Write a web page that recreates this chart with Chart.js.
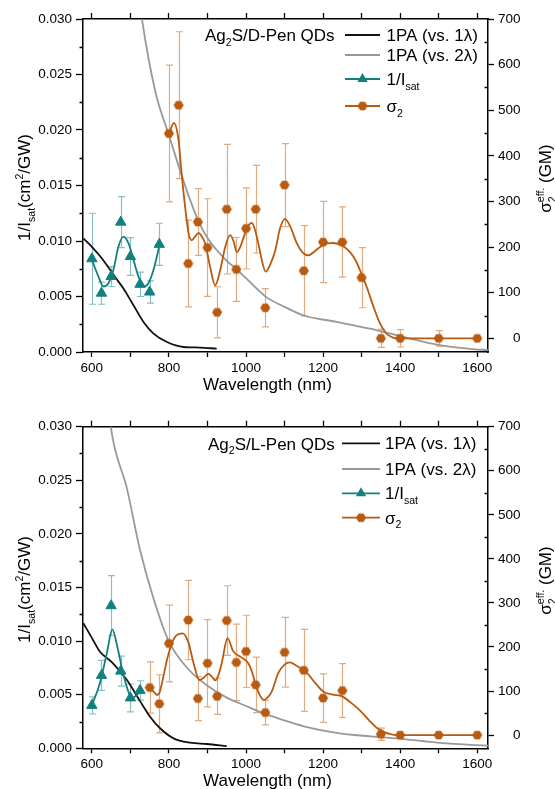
<!DOCTYPE html>
<html lang="en">
<head>
<meta charset="utf-8">
<title>Ag2S QDs - 1/Isat and sigma2</title>
<script src="https://cdn.jsdelivr.net/npm/chart.js@4.4.1/dist/chart.umd.min.js"></script>
<style>
  html, body { margin: 0; padding: 0; background: #fff; }
  .panel { position: absolute; left: 0; width: 555px; }
  #top { top: 0; height: 394px; }
  #bottom { top: 394px; height: 395px; }
</style>
</head>
<body>
<div class="panel" id="top"><canvas id="chartD" width="555" height="394"></canvas></div>
<div class="panel" id="bottom"><canvas id="chartL" width="555" height="395"></canvas></div>
<script>
// ---- D-Pen (top panel) ----
const dIsatWl = [600, 625, 650, 675, 700, 725, 750, 775];
const dIsat = [0.0084, 0.0053, 0.0068, 0.0117, 0.0086, 0.0061, 0.0054, 0.0097];
const dIsatErr = [0.0041, 0.0010, 0.0009, 0.0023, 0.0017, 0.0011, 0.0010, 0.0019];
const dIsatFitWl = [600, 617, 630, 643, 656, 669, 682, 695, 708, 721, 734, 747, 760, 776];
const dIsatFit = [0.0083, 0.0068, 0.0059, 0.0062, 0.0074, 0.0095, 0.0104, 0.0098, 0.0083, 0.0068, 0.0059, 0.0062, 0.0074, 0.0097];

const dSigmaWl = [800, 825, 850, 875, 900, 925, 950, 975, 1000, 1025, 1050, 1100, 1150, 1200, 1250, 1300, 1350, 1400, 1500, 1600];
const dSigma = [449, 511, 164, 255, 199, 57, 283, 151, 241, 283, 67, 336, 148, 211, 211, 133, 0, 0, 0, 0];
const dSigmaErr = [150, 161, 95, 73, 107, 56, 142, 70, 89, 96, 42, 91, 99, 89, 77, 66, 20, 19, 17, 3];
const dSigmaFitWl = [800, 813, 825, 833, 842, 851, 859, 867, 877, 886, 894, 907, 920, 933, 946, 959, 968, 976, 985, 993,
  1004, 1015, 1024, 1032, 1042, 1051, 1063, 1076, 1088, 1101, 1115, 1132, 1147, 1162, 1177, 1192, 1210, 1227, 1250, 1270,
  1285, 1296, 1313, 1331, 1348, 1365, 1380, 1391, 1500, 1600];
const dSigmaFit = [449, 472, 434, 361, 288, 230, 215, 222, 231, 222, 208, 156, 116, 149, 200, 226, 212, 189, 200, 219,
  244, 253, 236, 208, 168, 146, 162, 193, 240, 262, 245, 208, 188, 182, 190, 200, 208, 209, 203, 189,
  170, 149, 113, 69, 32, 10, 2, 0, 0, 0];

const d1paWl = [578, 600, 621, 639, 660, 682, 708, 734, 760, 795, 838, 881, 924];
const d1pa = [0.01023, 0.00948, 0.00865, 0.00782, 0.00677, 0.00572, 0.00421, 0.00271, 0.00166, 0.0009, 0.00045, 0.0004, 0.0003];
const d2paWl = [715, 730, 765, 800, 825, 850, 876, 900, 950, 975, 1000, 1050, 1100, 1150, 1235, 1322, 1408, 1495, 1581, 1628];
const d2pa = [800, 700, 540, 445, 378, 315, 258, 220, 170, 152, 132, 92, 69, 50, 36, 21, 3, -14, -23, -26];

// ---- L-Pen (bottom panel) ----
const lIsatWl = [600, 625, 650, 675, 700, 725];
const lIsat = [0.0040, 0.0068, 0.0133, 0.0072, 0.0047, 0.0054];
const lIsatErr = [0.0008, 0.0014, 0.0028, 0.0014, 0.0013, 0.0009];
const lIsatFitWl = [600, 621, 639, 653, 666, 679, 690, 703, 715, 726];
const lIsatFit = [0.0040, 0.0061, 0.0089, 0.0111, 0.0095, 0.0073, 0.0058, 0.0047, 0.0049, 0.0053];

const lSigmaWl = [750, 775, 800, 850, 875, 900, 925, 950, 975, 1000, 1025, 1050, 1100, 1150, 1200, 1250, 1350, 1400, 1500, 1600];
const lSigma = [108, 71, 208, 261, 83, 163, 88, 260, 165, 190, 114, 51, 188, 147, 84, 101, 2, 0, 0, 0];
const lSigmaErr = [58, 66, 87, 90, 50, 99, 41, 79, 87, 82, 63, 28, 79, 93, 55, 61, 14, 3, 0, 0];
const lSigmaFitWl = [750, 764, 769, 775, 782, 795, 808, 820, 836, 851, 864, 879, 890, 902, 912, 920, 928, 937, 952, 967,
  985, 1006, 1015, 1024, 1035, 1047, 1057, 1067, 1084, 1100, 1114, 1130, 1158, 1180, 1200, 1225, 1250, 1270, 1298, 1320,
  1340, 1360, 1375, 1390, 1500, 1600];
const lSigmaFit = [108, 95, 91, 95, 118, 171, 209, 227, 231, 209, 163, 125, 130, 139, 132, 124, 135, 163, 220, 190,
  178, 163, 145, 118, 92, 80, 86, 99, 141, 160, 165, 158, 141, 118, 99, 92, 88, 75, 54, 33,
  16, 6, 2, 0, 0, 0];

const l1paWl = [578, 600, 621, 653, 691, 725, 751, 777, 812, 855, 898, 950];
const l1pa = [0.01166, 0.0103, 0.00901, 0.0080, 0.00637, 0.0044, 0.00295, 0.00187, 0.00093, 0.00052, 0.0004, 0.00021];
const l2paWl = [640, 649, 691, 725, 760, 800, 850, 900, 950, 1000, 1050, 1100, 1150, 1235, 1322, 1408, 1495, 1581, 1628];
const l2pa = [780, 700, 560, 420, 310, 212, 150, 112, 85, 66, 48, 33, 20, 5, -3, -9, -17, -22, -24];

// axis ranges and minor ticks
const X_MIN = 577, X_MAX = 1628;
const leftMinor = [0.0025, 0.0075, 0.0125, 0.0175, 0.0225, 0.0275];
const rightMinor = [50, 150, 250, 350, 450, 550, 650];

const FONT = '"Liberation Sans", Arial, sans-serif';
const TEAL = '#138080';
const TEAL_ERR = 'rgba(19,128,128,0.5)';
const ORANGE = '#b85a10';
const ORANGE_ERR = 'rgba(205,115,45,0.6)';
const GRAY = '#999999';
const BLACK = '#111111';

Chart.defaults.font.family = FONT;
Chart.defaults.color = '#000';

function hexagon(color, r) {
  const c = document.createElement('canvas');
  const s = Math.ceil(r * 2 + 2);
  c.width = s; c.height = s;
  const g = c.getContext('2d');
  g.fillStyle = color;
  g.beginPath();
  for (let k = 0; k < 6; k++) {
    const a = Math.PI / 3 * k;
    g.lineTo(s / 2 + r * Math.cos(a), s / 2 + r * Math.sin(a));
  }
  g.closePath();
  g.fill();
  return c;
}
const HEX = hexagon(ORANGE, 5);

function pairs(xs, ys) { return xs.map((x, i) => ({x: x, y: ys[i]})); }

const T = t => ({t: t});
const SUB = t => ({t: t, kind: 'sub'});
const SUP = t => ({t: t, kind: 'sup'});
const STACK = (t, s) => ({t: t, sup: s, kind: 'stack'});

// draw text with sub/superscripts
function rich(ctx, parts, x, y, size, align) {
  const small = size * 0.62;
  const widths = parts.map(pt => {
    if (!pt.kind) { ctx.font = size + 'px ' + FONT; return ctx.measureText(pt.t).width; }
    ctx.font = small + 'px ' + FONT;
    const w1 = ctx.measureText(pt.t).width;
    const w2 = pt.sup ? ctx.measureText(pt.sup).width : 0;
    return Math.max(w1, w2);
  });
  const total = widths.reduce((s, w) => s + w, 0);
  let cx = align === 'center' ? x - total / 2 : x;
  ctx.textAlign = 'left';
  ctx.textBaseline = 'alphabetic';
  parts.forEach((pt, i) => {
    if (!pt.kind) {
      ctx.font = size + 'px ' + FONT;
      ctx.fillText(pt.t, cx, y);
    } else {
      ctx.font = small + 'px ' + FONT;
      if (pt.kind === 'sub' || pt.kind === 'stack') ctx.fillText(pt.t, cx, y + size * 0.28);
      if (pt.kind === 'sup') ctx.fillText(pt.t, cx, y - size * 0.42);
      if (pt.kind === 'stack') ctx.fillText(pt.sup, cx, y - size * 0.42);
    }
    cx += widths[i];
  });
}

const errorBars = {
  id: 'errorBars',
  beforeDatasetsDraw(chart) {
    const ctx = chart.ctx, a = chart.chartArea;
    ctx.save();
    ctx.beginPath();
    ctx.rect(a.left, a.top, a.right - a.left, a.bottom - a.top);
    ctx.clip();
    chart.data.datasets.forEach(ds => {
      if (!ds.errors) return;
      const xs = chart.scales.x, ys = chart.scales[ds.yAxisID];
      ctx.strokeStyle = ds.errorColor;
      ctx.lineWidth = 1.2;
      ctx.beginPath();
      ds.data.forEach((p, j) => {
        const e = ds.errors[j];
        if (!e) return;
        const px = Math.round(xs.getPixelForValue(p.x)) + 0.5;
        const y1 = ys.getPixelForValue(p.y + e), y2 = ys.getPixelForValue(p.y - e);
        ctx.moveTo(px, y1); ctx.lineTo(px, y2);
        ctx.moveTo(px - 3.5, y1); ctx.lineTo(px + 3.5, y1);
        ctx.moveTo(px - 3.5, y2); ctx.lineTo(px + 3.5, y2);
      });
      ctx.stroke();
    });
    ctx.restore();
  }
};

function decorations(p) {
  return {
    id: 'deco',
    afterDraw(chart) {
      const ctx = chart.ctx, a = chart.chartArea;
      const yl = chart.scales.y, yr = chart.scales.y1;
      ctx.save();
      // minor ticks
      ctx.strokeStyle = '#000';
      ctx.lineWidth = 1.3;
      ctx.beginPath();
      leftMinor.forEach(v => {
        const py = Math.round(yl.getPixelForValue(v)) + 0.5;
        ctx.moveTo(a.left - 3.5, py); ctx.lineTo(a.left, py);
      });
      rightMinor.forEach(v => {
        const py = Math.round(yr.getPixelForValue(v)) + 0.5;
        ctx.moveTo(a.right, py); ctx.lineTo(a.right - 3.5, py);
      });
      ctx.stroke();

      ctx.fillStyle = '#000';
      // x title
      rich(ctx, [T('Wavelength (nm)')], 267.5, a.bottom + 37.5, 17, 'center');
      // left title
      const mid = (a.top + a.bottom) / 2;
      ctx.save();
      ctx.translate(30, mid + 2);
      ctx.rotate(-Math.PI / 2);
      rich(ctx, [T('1/I'), SUB('sat'), T('(cm'), SUP('2'), T('/GW)')], 0, 0, 17, 'center');
      ctx.restore();
      // right title
      ctx.save();
      ctx.translate(551, mid - 7);
      ctx.rotate(-Math.PI / 2);
      rich(ctx, [T('σ'), STACK('2', 'eff.'), T(' (GM)')], 0, 0, 17, 'center');
      ctx.restore();

      // sample name
      rich(ctx, p.name, p.nameX, a.top + p.nameDy, 17, 'left');

      // legend
      p.legend.forEach(row => {
        const y = a.top + row.dy;
        const x0 = p.legendX0, x1 = 380, xm = (x0 + x1) / 2;
        ctx.strokeStyle = row.color;
        ctx.lineWidth = 1.8;
        ctx.beginPath(); ctx.moveTo(x0, y); ctx.lineTo(x1, y); ctx.stroke();
        if (row.marker === 'triangle') {
          const r = 6;
          ctx.fillStyle = TEAL;
          ctx.beginPath();
          ctx.moveTo(xm, y - r);
          ctx.lineTo(xm + 0.866 * r, y + 0.5 * r);
          ctx.lineTo(xm - 0.866 * r, y + 0.5 * r);
          ctx.closePath();
          ctx.fill();
        }
        if (row.marker === 'hex') ctx.drawImage(HEX, xm - HEX.width / 2, y - HEX.height / 2);
        ctx.fillStyle = '#000';
        rich(ctx, row.text, p.legendTextX, y + 6, 17, 'left');
      });
      ctx.restore();
    }
  };
}

function tickAxis(position, extra) {
  return Object.assign({
    type: 'linear',
    position: position,
    grid: { drawOnChartArea: false, drawTicks: true, tickLength: 6, tickColor: '#000', tickWidth: 1.3 },
    border: { display: true, color: '#000', width: 1.5 }
  }, extra);
}

function buildChart(id, p) {
  return new Chart(document.getElementById(id), {
    type: 'scatter',
    data: {
      datasets: [
        { label: '1/Isat', data: pairs(p.isatWl, p.isat), errors: p.isatErr, errorColor: TEAL_ERR, yAxisID: 'y',
          pointStyle: 'triangle', pointRadius: 6, backgroundColor: TEAL, borderColor: TEAL, borderWidth: 1, showLine: false },
        { label: 'σ2', data: pairs(p.sigmaWl, p.sigma), errors: p.sigmaErr, errorColor: ORANGE_ERR, yAxisID: 'y1',
          pointStyle: HEX, pointRadius: 5, backgroundColor: ORANGE, borderColor: ORANGE, showLine: false },
        { label: '1/Isat fit', data: pairs(p.isatFitWl, p.isatFit), yAxisID: 'y', showLine: true, pointRadius: 0,
          borderColor: TEAL, borderWidth: 1.8, cubicInterpolationMode: 'monotone', fill: false },
        { label: 'σ2 fit', data: pairs(p.sigmaFitWl, p.sigmaFit), yAxisID: 'y1', showLine: true, pointRadius: 0,
          borderColor: ORANGE, borderWidth: 1.8, cubicInterpolationMode: 'monotone', fill: false },
        { label: '1PA (vs. 1λ)', data: pairs(p.onePaWl, p.onePa), yAxisID: 'y', showLine: true, pointRadius: 0,
          borderColor: BLACK, borderWidth: 1.8, cubicInterpolationMode: 'monotone', fill: false },
        { label: '1PA (vs. 2λ)', data: pairs(p.twoPaWl, p.twoPa), yAxisID: 'y1', showLine: true, pointRadius: 0,
          borderColor: GRAY, borderWidth: 1.8, cubicInterpolationMode: 'monotone', fill: false }
      ]
    },
    options: {
      responsive: false,
      animation: false,
      events: [],
      // right padding leaves room for the rotated right-hand title
      layout: { padding: { left: 0, top: 0, bottom: 0, right: 34.5 } },
      plugins: { legend: { display: false }, tooltip: { enabled: false } },
      scales: {
        x: tickAxis('bottom', {
          min: X_MIN, max: X_MAX,
          grid: { drawOnChartArea: false, drawTicks: true, tickLength: 5, tickColor: '#000', tickWidth: 1.3 },
          ticks: { stepSize: 100, includeBounds: false, autoSkip: false, maxRotation: 0, padding: 3,
            font: { size: 13.5 }, color: '#000', callback: v => (v % 200 === 0 ? String(v) : '') },
          afterFit: s => { s.height = p.bottomPad; }
        }),
        x2: tickAxis('top', {
          min: X_MIN, max: X_MAX,
          ticks: { stepSize: 100, includeBounds: false, display: false },
          afterFit: s => { s.height = p.topPad; }
        }),
        y: tickAxis('left', {
          min: 0, max: 0.03,
          grid: { drawOnChartArea: false, drawTicks: true, tickLength: 7, tickColor: '#000', tickWidth: 1.3 },
          ticks: { stepSize: 0.005, includeBounds: false, padding: 4, font: { size: 13.5 }, color: '#000',
            callback: v => v.toFixed(3) },
          afterFit: s => { s.width = 83; }
        }),
        y1: tickAxis('right', {
          min: -30, max: 700,
          ticks: { stepSize: 100, includeBounds: false, padding: 4, crossAlign: 'far', font: { size: 13.5 }, color: '#000',
            callback: v => String(v) },
          afterFit: s => { s.width = 32.5; }
        })
      }
    },
    plugins: [errorBars, decorations(p)]
  });
}

const legendRowsTop = [
  { dy: 16, color: BLACK, text: [T('1PA (vs. 1λ)')] },
  { dy: 36, color: GRAY, text: [T('1PA (vs. 2λ)')] },
  { dy: 60, color: TEAL, marker: 'triangle', text: [T('1/I'), SUB('sat')] },
  { dy: 87, color: ORANGE, marker: 'hex', text: [T('σ'), SUB('2')] }
];
const legendRowsBottom = [
  { dy: 16.6, color: BLACK, text: [T('1PA (vs. 1λ)')] },
  { dy: 42.3, color: GRAY, text: [T('1PA (vs. 2λ)')] },
  { dy: 66.6, color: TEAL, marker: 'triangle', text: [T('1/I'), SUB('sat')] },
  { dy: 91, color: ORANGE, marker: 'hex', text: [T('σ'), SUB('2')] }
];

buildChart('chartD', {
  isatWl: dIsatWl, isat: dIsat, isatErr: dIsatErr, isatFitWl: dIsatFitWl, isatFit: dIsatFit,
  sigmaWl: dSigmaWl, sigma: dSigma, sigmaErr: dSigmaErr, sigmaFitWl: dSigmaFitWl, sigmaFit: dSigmaFit,
  onePaWl: d1paWl, onePa: d1pa, twoPaWl: d2paWl, twoPa: d2pa,
  topPad: 19, bottomPad: 42,
  name: [T('Ag'), SUB('2'), T('S/D-Pen QDs')], nameX: 205, nameDy: 22,
  legend: legendRowsTop, legendX0: 345, legendTextX: 386.5
});

buildChart('chartL', {
  isatWl: lIsatWl, isat: lIsat, isatErr: lIsatErr, isatFitWl: lIsatFitWl, isatFit: lIsatFit,
  sigmaWl: lSigmaWl, sigma: lSigma, sigmaErr: lSigmaErr, sigmaFitWl: lSigmaFitWl, sigmaFit: lSigmaFit,
  onePaWl: l1paWl, onePa: l1pa, twoPaWl: l2paWl, twoPa: l2pa,
  topPad: 32.7, bottomPad: 40.7,
  name: [T('Ag'), SUB('2'), T('S/L-Pen QDs')], nameX: 208, nameDy: 23,
  legend: legendRowsBottom, legendX0: 342, legendTextX: 385
});
</script>
</body>
</html>
